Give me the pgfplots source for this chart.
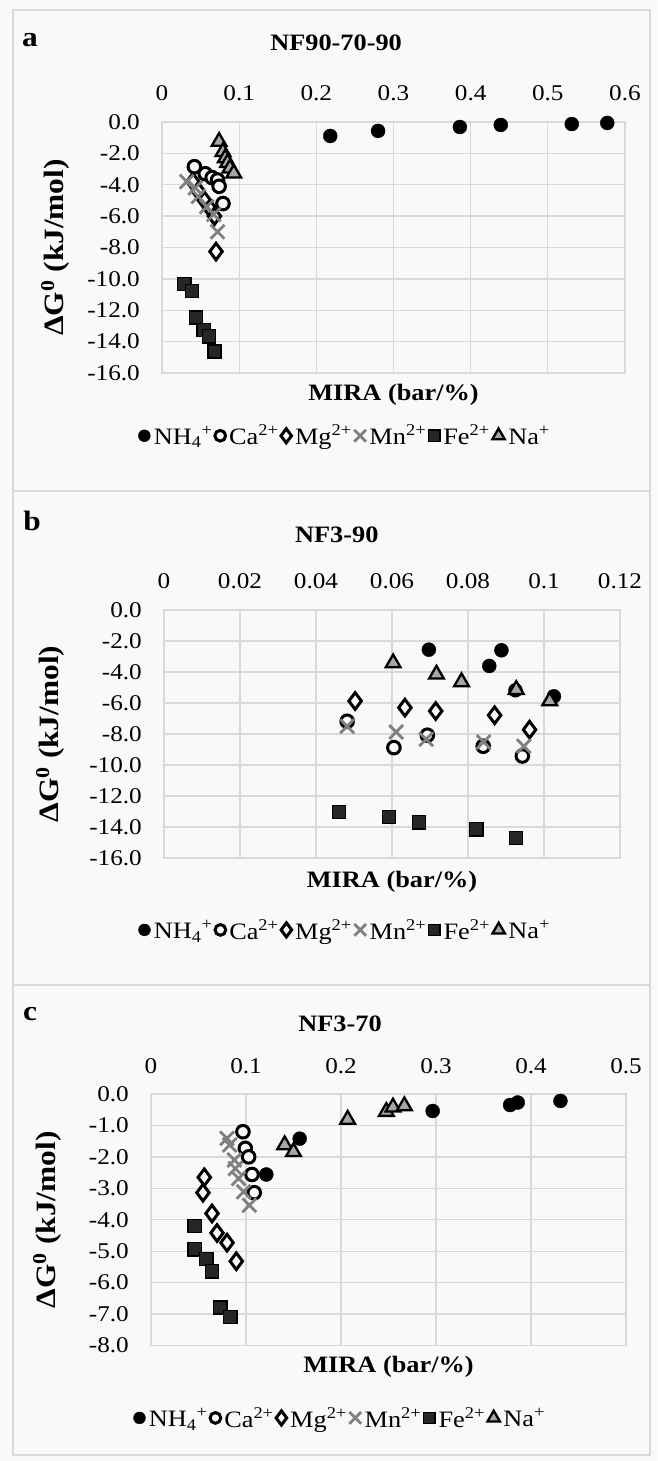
\documentclass[border=0pt]{standalone}
\usepackage{fontspec}
\setmainfont{Liberation Serif}[FakeStretch=1.12]
\usepackage{pgfplots}
\pgfplotsset{compat=1.18}

\definecolor{gridc}{HTML}{D9D9D9}
\definecolor{bg}{HTML}{F9F9F9}
\definecolor{naf}{HTML}{A6A6A6}
\definecolor{fef}{HTML}{262626}
\definecolor{mnc}{HTML}{808080}
\newcommand\fs{\fontsize{22.5}{27}\selectfont}

\pgfplotsset{
  panel/.style={
    scale only axis, anchor=south west,
    enlargelimits=false, xmin=0,
    xticklabel pos=right, major tick length=0pt,
    grid=major, grid style={gridc, line width=1.3pt},
    axis line style={gridc, line width=1.3pt},
    ytick={-16,-14,...,0},
    yticklabels={-16.0,-14.0,-12.0,-10.0,-8.0,-6.0,-4.0,-2.0,0.0},
    xticklabel style={font=\fs, anchor=base, inner sep=0pt, yshift=21pt},
    yticklabel style={font=\fs, anchor=east, inner sep=0pt, xshift=-22pt},
    xlabel={\bfseries MIRA (bar/\%)}, ylabel={\bfseries ΔG\textsuperscript{0} (kJ/mol)},
    xlabel style={font=\fontsize{23.5}{27}\selectfont},
    ylabel style={font=\fontsize{28}{32}\selectfont},
    title style={font=\fontsize{23.5}{27}\selectfont\bfseries, anchor=center},
    legend style={font=\fontsize{23.5}{27}\selectfont, draw=none, fill=none, anchor=center,
      legend columns=-1, nodes={inner sep=1.5pt},
      /tikz/every odd column/.append style={column sep=2pt},
      /tikz/every even column/.append style={column sep=1pt}},
    legend image code/.code={\draw[##1, scale=0.85] plot coordinates {(0pt,0pt)};},
  },
  nh/.style={only marks, mark=*, mark size=7pt, mark options={fill=black, draw=black}},
  ca/.style={only marks, mark=*, mark size=6.3pt, mark options={fill=bg, draw=black, line width=3pt}},
  mg/.style={only marks, mark=diamond*, mark size=8.3pt, mark options={fill=bg, draw=black, line width=3pt}},
  mn/.style={only marks, mark=x, mark size=9.8pt, mark options={draw=mnc, line width=2.8pt}},
  fe/.style={only marks, mark=square*, mark size=6.6pt, mark options={fill=fef, draw=black, line width=1.3pt}},
  na/.style={only marks, mark=triangle*, mark size=8.5pt, mark options={fill=naf, draw=black, line width=2.3pt}},
}

\begin{document}
\begin{tikzpicture}
\useasboundingbox (0pt,0pt) rectangle (657pt,1461pt);
\fill[bg] (0pt,0pt) rectangle (657pt,1461pt);
\draw[gridc, line width=1.6pt] (13pt,1451pt) rectangle (650pt,970pt);
\draw[gridc, line width=1.6pt] (13pt,970pt) rectangle (650pt,476pt);
\draw[gridc, line width=1.6pt] (13pt,476pt) rectangle (650pt,6pt);
\node[font=\fontsize{28}{30}\selectfont\bfseries] at (30pt,1421pt) {a};
\node[font=\fontsize{28}{30}\selectfont\bfseries] at (32pt,940pt) {b};
\node[font=\fontsize{28}{30}\selectfont\bfseries] at (30pt,447pt) {c};

% panel a
\begin{axis}[panel, at={(162pt,1088pt)}, width=463pt, height=251pt,
  xmax=0.6, ymin=-16, ymax=0,
  xtick={0,0.1,...,0.6}, xticklabels={0,0.1,0.2,0.3,0.4,0.5,0.6},
  title={NF90-70-90}, title style={at={(axis description cs:0.376,1.29)}},
  xlabel style={at={(axis description cs:0.5,-0.0876)}, anchor=center},
  ylabel style={at={(axis description cs:-0.231,0.5)}, anchor=center},
  legend style={at={(axis description cs:0.395,-0.25)}}]
\addplot[nh] coordinates {(0.218,-0.89) (0.280,-0.57) (0.386,-0.32) (0.439,-0.19) (0.531,-0.13) (0.577,-0.06)};
\addplot[ca] coordinates {(0.042,-2.85) (0.056,-3.3) (0.065,-3.55) (0.072,-3.7) (0.074,-4.1) (0.079,-5.2)};
\addplot[mg] coordinates {(0.040,-3.8) (0.047,-4.4) (0.055,-5.0) (0.062,-5.5) (0.068,-6.0) (0.070,-8.26)};
\addplot[mn] coordinates {(0.032,-3.8) (0.043,-4.2) (0.047,-4.75) (0.058,-5.4) (0.067,-5.9) (0.072,-7.0)};
\addplot[fe] coordinates {(0.029,-10.34) (0.039,-10.77) (0.044,-12.46) (0.054,-13.25) (0.061,-13.67) (0.068,-14.63)};
\addplot[na] coordinates {(0.074,-1.25) (0.079,-1.9) (0.082,-2.3) (0.085,-2.6) (0.088,-2.95) (0.093,-3.27)};
\legend{NH\textsubscript{4}\textsuperscript{+}, Ca\textsuperscript{2+}, Mg\textsuperscript{2+}, Mn\textsuperscript{2+}, Fe\textsuperscript{2+}, Na\textsuperscript{+}}
\end{axis}

% panel b
\begin{axis}[panel, at={(164pt,603pt)}, width=456pt, height=248pt,
  xmax=0.12, ymin=-16, ymax=0,
  xtick={0,0.02,0.04,0.06,0.08,0.1,0.12}, xticklabels={0,0.02,0.04,0.06,0.08,0.1,0.12},
  title={NF3-90}, title style={at={(axis description cs:0.379,1.278)}},
  xlabel style={at={(axis description cs:0.5,-0.097)}, anchor=center},
  ylabel style={at={(axis description cs:-0.25,0.5)}, anchor=center},
  legend style={at={(axis description cs:0.397,-0.29)}}]
\addplot[nh] coordinates {(0.0697,-2.56) (0.0888,-2.6) (0.0856,-3.61) (0.0925,-5.18) (0.1026,-5.57)};
\addplot[ca] coordinates {(0.0482,-7.18) (0.0605,-8.88) (0.0693,-8.08) (0.0840,-8.79) (0.0943,-9.42)};
\addplot[mg] coordinates {(0.0503,-5.87) (0.0634,-6.30) (0.0715,-6.52) (0.0870,-6.79) (0.0962,-7.72)};
\addplot[mn] coordinates {(0.0482,-7.5) (0.0611,-7.87) (0.0690,-8.34) (0.0841,-8.52) (0.0947,-8.79)};
\addplot[fe] coordinates {(0.0461,-13.03) (0.0592,-13.35) (0.0671,-13.7) (0.0822,-14.15) (0.0926,-14.7)};
\addplot[na] coordinates {(0.0603,-3.42) (0.0717,-4.15) (0.0783,-4.64) (0.0927,-5.14) (0.1015,-5.87)};
\legend{NH\textsubscript{4}\textsuperscript{+}, Ca\textsuperscript{2+}, Mg\textsuperscript{2+}, Mn\textsuperscript{2+}, Fe\textsuperscript{2+}, Na\textsuperscript{+}}
\end{axis}

% panel c
\begin{axis}[panel, at={(151pt,115.5pt)}, width=475pt, height=251.5pt,
  xmax=0.5, ymin=-8, ymax=0,
  xtick={0,0.1,...,0.5}, xticklabels={0,0.1,0.2,0.3,0.4,0.5},
  ytick={-8,-7,...,0}, yticklabels={-8.0,-7.0,-6.0,-5.0,-4.0,-3.0,-2.0,-1.0,0.0},
  title={NF3-70}, title style={at={(axis description cs:0.398,1.254)}},
  xlabel style={at={(axis description cs:0.5,-0.085)}, anchor=center},
  ylabel style={at={(axis description cs:-0.219,0.5)}, anchor=center},
  legend style={at={(axis description cs:0.398,-0.288)}}]
\addplot[nh] coordinates {(0.1565,-1.42) (0.1214,-2.56) (0.2965,-0.54) (0.378,-0.35) (0.386,-0.27) (0.431,-0.22)};
\addplot[ca] coordinates {(0.0968,-1.2) (0.0993,-1.73) (0.1028,-2.0) (0.1063,-2.56) (0.1087,-3.14)};
\addplot[mg] coordinates {(0.0561,-2.65) (0.0547,-3.14) (0.0642,-3.80) (0.0695,-4.42) (0.080,-4.73) (0.0898,-5.32)};
\addplot[mn] coordinates {(0.080,-1.41) (0.0828,-1.62) (0.0877,-2.1) (0.0887,-2.37) (0.0922,-2.69) (0.0975,-3.11) (0.1035,-3.54)};
\addplot[fe] coordinates {(0.0459,-4.20) (0.0459,-4.94) (0.0582,-5.25) (0.0642,-5.64) (0.073,-6.79) (0.0835,-7.09)};
\addplot[na] coordinates {(0.1407,-1.62) (0.150,-1.84) (0.207,-0.81) (0.2477,-0.56) (0.2547,-0.42) (0.2667,-0.38)};
\legend{NH\textsubscript{4}\textsuperscript{+}, Ca\textsuperscript{2+}, Mg\textsuperscript{2+}, Mn\textsuperscript{2+}, Fe\textsuperscript{2+}, Na\textsuperscript{+}}
\end{axis}
\end{tikzpicture}
\end{document}
